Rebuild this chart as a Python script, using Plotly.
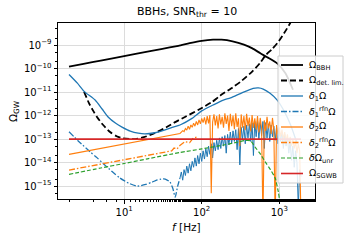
import numpy as np
import plotly.graph_objects as go

# ---------------- data (frequencies in Hz, values as log10 Omega) ----------------
f_bbh = [1.95, 3, 5, 10, 20, 30, 50, 70, 100, 140, 180, 250, 350, 450, 570, 700, 940, 1200, 1500]
log_bbh = [-9.92, -9.80, -9.66, -9.47, -9.28, -9.17, -9.03, -8.92, -8.82, -8.77, -8.77, -8.84, -8.98,
           -9.14, -9.35, -9.52, -9.78, -10.2, -10.9]

f_detlim = [3.05, 3.5, 4.0, 4.45, 5.3, 6.59, 8.0, 9.4, 12, 14, 18, 25, 35, 45.5, 60, 95, 136, 173,
            250, 314, 450, 569, 660, 800, 942, 1150, 1387, 1600]
log_detlim = [-10.99, -11.45, -11.80, -12.05, -12.38, -12.70, -12.88, -12.96, -13.00, -13.00, -12.92,
              -12.74, -12.50, -12.28, -12.07, -11.72, -11.42, -11.15, -10.80, -10.57, -10.12, -9.75,
              -9.45, -9.18, -8.92, -8.50, -8.05, -7.60]

f_d1 = [1.95, 2.5, 3.05, 4.23, 5.2, 6.22, 7.8, 9.4, 12, 15.2, 18.5, 25, 33, 41.6, 52.5, 75, 100, 140,
        190, 235, 330, 460, 540, 620, 760, 940, 1150, 1400, 1700]
log_d1 = [-10.25, -10.62, -10.97, -11.34, -11.72, -12.06, -12.33, -12.49, -12.66, -12.75, -12.78,
          -12.73, -12.62, -12.50, -12.40, -12.12, -11.80, -11.55, -11.34, -11.25, -11.03, -10.84,
          -10.82, -10.87, -11.05, -11.34, -11.80, -12.40, -13.20]

f_d1_rfn = [1.95, 2.6, 3.64, 4.5, 5.36, 7.0, 8.87, 11.5, 14.7, 19, 23, 26.7, 30, 33.9, 39, 42.5, 45.5,
            49, 52.5]
log_d1_rfn = [-12.69, -13.10, -13.54, -13.80, -14.04, -14.38, -14.66, -14.88, -15.00, -14.93, -14.83,
              -14.74, -14.70, -14.70, -14.83, -15.10, -15.47, -15.00, -14.66]

f_d2 = [1.95, 5, 10, 20, 35, 48]
log_d2 = [-13.65, -13.40, -13.21, -13.02, -12.87, -12.79]

f_d2_rfn = [1.95, 10, 20, 35.5, 41, 44, 48, 52.8, 61, 70, 77.6, 90]
log_d2_rfn = [-14.32, -13.88, -13.70, -13.54, -13.50, -13.38, -13.42, -13.26, -13.11, -13.15, -12.96,
              -12.90]

f_unr = [1.95, 5, 10, 20, 52.6, 100, 200, 300, 364, 423, 490, 560, 659, 770, 887, 970, 1030]
log_unr = [-14.50, -14.23, -14.04, -13.84, -13.57, -13.42, -13.24, -13.12, -13.06, -13.07, -13.35,
           -13.60, -13.97, -14.30, -14.67, -15.24, -15.80]

f_sgwb = [1.95, 1900]
log_sgwb = [-13.0, -13.0]

# noisy high-frequency parts, sampled on a common log-spaced frequency grid (52.5 Hz .. 1.9 kHz)
f_noise = np.logspace(1.72, 3.28, 90)
log_d1_rfn_noise = [
    -14.66, -14.40, -14.75, -14.30, -14.55, -14.15, -14.45, -14.05, -14.35, -13.95,
    -14.20, -13.80, -14.15, -13.70, -14.05, -13.60, -13.95, -13.50, -13.85, -13.40,
    -13.75, -13.30, -13.65, -13.20, -13.80, -13.15, -13.50, -13.05, -13.45, -12.95,
    -13.40, -12.90, -13.30, -12.85, -13.60, -12.80, -13.25, -12.70, -13.20, -12.65,
    -13.10, -12.60, -13.45, -12.55, -14.10, -12.50, -13.00, -12.45, -13.20, -12.40,
    -12.95, -12.35, -13.10, -12.30, -13.70, -12.25, -12.90, -12.20, -13.00, -12.30,
    -12.85, -12.25, -13.40, -12.30, -12.95, -12.35, -13.10, -12.40, -12.90, -12.45,
    -13.05, -12.50, -13.20, -12.60, -13.10, -12.70, -13.40, -12.80, -13.30, -12.90,
    -13.60, -13.10, -13.90, -13.30, -14.20, -13.50, -14.00, -15.90, -14.30, -14.60]
log_d2_noise = [
    -12.76, -12.70, -12.64, -12.68, -12.55, -12.62, -12.45, -12.58, -12.40, -12.50,
    -12.32, -12.45, -12.25, -12.40, -12.18, -12.35, -12.12, -12.30, -12.08, -12.38,
    -12.02, -12.33, -11.98, -15.30, -12.28, -11.95, -12.42, -12.02, -12.55, -11.95,
    -12.38, -12.05, -12.52, -11.90, -12.35, -12.00, -12.65, -11.92, -12.45, -12.00,
    -12.58, -11.90, -12.48, -12.12, -13.30, -11.95, -12.52, -12.02, -12.62, -11.92,
    -12.45, -12.08, -12.68, -11.98, -12.52, -12.12, -12.60, -12.02, -12.72, -12.10,
    -12.55, -16.50, -12.20, -12.65, -12.05, -12.55, -12.25, -12.78, -12.10, -12.60,
    -16.50, -12.40, -12.80, -12.50, -12.90, -12.60, -13.00, -12.70, -13.10, -12.80,
    -13.20, -12.90, -13.30, -13.00, -13.40, -13.10, -13.60, -13.20, -13.50, -16.50]

x_tick_vals = [10, 100, 1000]
x_tick_text = ["10<sup>1</sup>", "10<sup>2</sup>", "10<sup>3</sup>"]
y_tick_vals = [1e-15, 1e-14, 1e-13, 1e-12, 1e-11, 1e-10, 1e-9]
y_tick_text = ["10<sup>−15</sup>", "10<sup>−14</sup>", "10<sup>−13</sup>", "10<sup>−12</sup>",
               "10<sup>−11</sup>", "10<sup>−10</sup>", "10<sup>−9</sup>"]

legend_labels = ["Ω<sub>BBH</sub>", "Ω<sub>det. lim.</sub>", "<i>δ</i><sub>1</sub>Ω",
                 "<i>δ</i><sub>1</sub><sup>rfn</sup>Ω", "<i>δ</i><sub>2</sub>Ω",
                 "<i>δ</i><sub>2</sub><sup>rfn</sup>Ω", "<i>δ</i>Ω<sub>unr</sub>", "Ω<sub>SGWB</sub>"]

# ---------------- styles ----------------
BLUE, ORANGE, GREEN, RED = "#1f77b4", "#ff7f0e", "#2ca02c", "#d62728"
DASH_BLACK = "6px,3px"
DASHDOT = "6px,2px,1.5px,2px"
DASH_GREEN = "4px,2px"
FONT = "DejaVu Sans"

fig = go.Figure()


def add(f, logv, color, width, dash="solid", shape="spline"):
    fig.add_trace(go.Scatter(x=np.asarray(f, float), y=np.power(10.0, np.asarray(logv, float)),
                             mode="lines", showlegend=False, hoverinfo="skip",
                             line=dict(color=color, width=width, dash=dash, shape=shape,
                                       smoothing=0.6 if shape == "spline" else None)))


add(f_bbh, log_bbh, "black", 1.8)
add(f_detlim, log_detlim, "black", 1.8, DASH_BLACK)
add(f_d1, log_d1, BLUE, 1.3)
add(f_d1_rfn, log_d1_rfn, BLUE, 1.3, DASHDOT)
add(f_noise, log_d1_rfn_noise, BLUE, 1.0, "solid", "linear")
add(list(f_d2) + list(f_noise), list(log_d2) + list(log_d2_noise), ORANGE, 1.1, "solid", "linear")
add(f_d2_rfn, log_d2_rfn, ORANGE, 1.3, DASHDOT, "linear")
add(f_unr, log_unr, GREEN, 1.2, DASH_GREEN)
add(f_sgwb, log_sgwb, RED, 1.6, "solid", "linear")

# ---------------- layout ----------------
L, R, T, B = 58, 315, 23, 199
W, H = 360, 240


def px(x):
    return (x - L) / (R - L)


def py(y):
    return (B - y) / (B - T)


axis_common = dict(type="log", showline=True, linecolor="black", linewidth=1, mirror=True,
                   ticks="outside", ticklen=3.5, tickcolor="black", tickwidth=1,
                   showgrid=True, gridcolor="#dcdcdc", gridwidth=1, zeroline=False,
                   tickfont=dict(family=FONT, size=10, color="black"),
                   minor=dict(ticks="outside", ticklen=2, tickcolor="black", showgrid=False))

fig.update_layout(
    width=W, height=H, margin=dict(l=L, r=W - R, t=T, b=H - B, autoexpand=False),
    paper_bgcolor="white", plot_bgcolor="white", showlegend=False,
    xaxis=dict(range=[0.148, 3.46], tickmode="array", tickvals=x_tick_vals, ticktext=x_tick_text,
               **axis_common),
    yaxis=dict(range=[-15.55, -8.06], tickmode="array", tickvals=y_tick_vals, ticktext=y_tick_text,
               **axis_common),
    font=dict(family=FONT, color="black"),
)

# titles
fig.add_annotation(text="BBHs, SNR<sub>thr</sub> = 10", xref="paper", yref="paper", x=0.5, y=py(12),
                   showarrow=False, font=dict(size=11, family=FONT), xanchor="center", yanchor="middle")
fig.add_annotation(text="Ω<sub>GW</sub>", xref="paper", yref="paper", x=px(14), y=0.5, textangle=-90,
                   showarrow=False, font=dict(size=10.5, family=FONT), xanchor="center", yanchor="middle")
fig.add_annotation(text="<i>f</i> [Hz]", xref="paper", yref="paper", x=0.5, y=py(227),
                   showarrow=False, font=dict(size=10.5, family=FONT), xanchor="center", yanchor="middle")

# manual legend (box, samples, labels)
fig.add_shape(type="rect", xref="paper", yref="paper", x0=px(278), x1=px(343), y0=py(183), y1=py(56),
              fillcolor="rgba(255,255,255,0.85)", line=dict(color="#cccccc", width=1), layer="above")
styles = [("black", 1.8, "solid"), ("black", 1.8, DASH_BLACK), (BLUE, 1.3, "solid"),
          (BLUE, 1.3, DASHDOT), (ORANGE, 1.3, "solid"), (ORANGE, 1.3, DASHDOT),
          (GREEN, 1.2, DASH_GREEN), (RED, 1.6, "solid")]
for k, (lab, (c, w, d)) in enumerate(zip(legend_labels, styles)):
    yy = 65 + 15.5 * k
    fig.add_shape(type="line", xref="paper", yref="paper", x0=px(281), x1=px(303), y0=py(yy), y1=py(yy),
                  line=dict(color=c, width=w, dash=d), layer="above")
    fig.add_annotation(text=lab, xref="paper", yref="paper", x=px(307), y=py(yy), showarrow=False,
                       xanchor="left", yanchor="middle", font=dict(size=9.5, family=FONT))

fig.write_html("out.html", config={"displayModeBar": False},
               post_script="document.body.style.margin='0px';")
